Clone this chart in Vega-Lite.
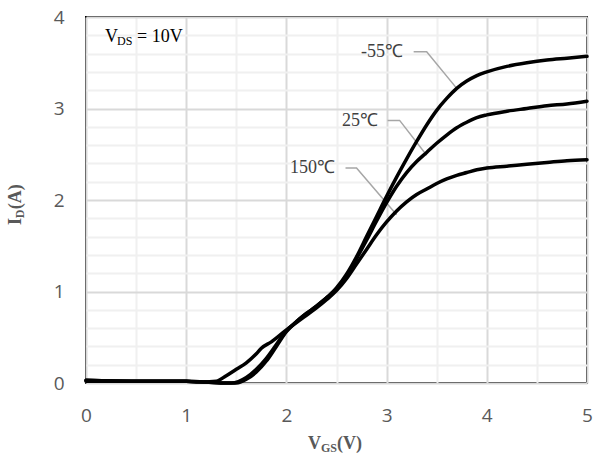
{
  "$schema": "https://vega.github.io/schema/vega-lite/v6.json",
  "width": 501,
  "height": 366,
  "autosize": {"type": "none"},
  "padding": {"left": 86, "top": 17, "right": 9, "bottom": 71},
  "background": "#ffffff",
  "config": {
    "view": {"stroke": "#000000", "strokeWidth": 2},
    "axis": {"title": null, "labelOverlap": false}
  },
  "resolve": {"axis": {"x": "independent", "y": "independent"}},
  "datasets": {
    "curves": [
      {"t": "-55", "v": 0, "i": 0.02}, {"t": "-55", "v": 0.5, "i": 0.02}, {"t": "-55", "v": 1.0, "i": 0.02}, {"t": "-55", "v": 1.2, "i": 0.01}, {"t": "-55", "v": 1.4, "i": 0.0}, {"t": "-55", "v": 1.5, "i": 0.0},
      {"t": "-55", "v": 1.6, "i": 0.04}, {"t": "-55", "v": 1.7, "i": 0.12}, {"t": "-55", "v": 1.8, "i": 0.24}, {"t": "-55", "v": 1.9, "i": 0.4}, {"t": "-55", "v": 2.0, "i": 0.56},
      {"t": "-55", "v": 2.1, "i": 0.67}, {"t": "-55", "v": 2.2, "i": 0.76}, {"t": "-55", "v": 2.3, "i": 0.84}, {"t": "-55", "v": 2.4, "i": 0.93}, {"t": "-55", "v": 2.5, "i": 1.04},
      {"t": "-55", "v": 2.6, "i": 1.19}, {"t": "-55", "v": 2.7, "i": 1.38}, {"t": "-55", "v": 2.8, "i": 1.6}, {"t": "-55", "v": 2.9, "i": 1.82}, {"t": "-55", "v": 3.0, "i": 2.04},
      {"t": "-55", "v": 3.1, "i": 2.25}, {"t": "-55", "v": 3.2, "i": 2.45}, {"t": "-55", "v": 3.3, "i": 2.64}, {"t": "-55", "v": 3.4, "i": 2.82}, {"t": "-55", "v": 3.5, "i": 2.98},
      {"t": "-55", "v": 3.6, "i": 3.11}, {"t": "-55", "v": 3.7, "i": 3.22}, {"t": "-55", "v": 3.8, "i": 3.3}, {"t": "-55", "v": 3.9, "i": 3.36}, {"t": "-55", "v": 4.0, "i": 3.4},
      {"t": "-55", "v": 4.2, "i": 3.46}, {"t": "-55", "v": 4.4, "i": 3.5}, {"t": "-55", "v": 4.6, "i": 3.53}, {"t": "-55", "v": 4.8, "i": 3.55}, {"t": "-55", "v": 5.0, "i": 3.57},
      {"t": "25", "v": 0, "i": 0.03}, {"t": "25", "v": 0.5, "i": 0.02}, {"t": "25", "v": 1.0, "i": 0.02}, {"t": "25", "v": 1.2, "i": 0.01}, {"t": "25", "v": 1.4, "i": 0.0}, {"t": "25", "v": 1.45, "i": 0.0},
      {"t": "25", "v": 1.6, "i": 0.06}, {"t": "25", "v": 1.7, "i": 0.15}, {"t": "25", "v": 1.8, "i": 0.27}, {"t": "25", "v": 1.9, "i": 0.42}, {"t": "25", "v": 2.0, "i": 0.57},
      {"t": "25", "v": 2.1, "i": 0.67}, {"t": "25", "v": 2.2, "i": 0.76}, {"t": "25", "v": 2.3, "i": 0.84}, {"t": "25", "v": 2.4, "i": 0.93}, {"t": "25", "v": 2.5, "i": 1.03},
      {"t": "25", "v": 2.6, "i": 1.17}, {"t": "25", "v": 2.7, "i": 1.36}, {"t": "25", "v": 2.8, "i": 1.56}, {"t": "25", "v": 2.9, "i": 1.77}, {"t": "25", "v": 3.0, "i": 1.97},
      {"t": "25", "v": 3.1, "i": 2.15}, {"t": "25", "v": 3.2, "i": 2.3}, {"t": "25", "v": 3.3, "i": 2.42}, {"t": "25", "v": 3.4, "i": 2.52}, {"t": "25", "v": 3.5, "i": 2.62},
      {"t": "25", "v": 3.6, "i": 2.71}, {"t": "25", "v": 3.7, "i": 2.79}, {"t": "25", "v": 3.8, "i": 2.85}, {"t": "25", "v": 3.9, "i": 2.9}, {"t": "25", "v": 4.0, "i": 2.93},
      {"t": "25", "v": 4.2, "i": 2.97}, {"t": "25", "v": 4.4, "i": 3.0}, {"t": "25", "v": 4.6, "i": 3.03}, {"t": "25", "v": 4.8, "i": 3.05}, {"t": "25", "v": 5.0, "i": 3.08},
      {"t": "150", "v": 0, "i": 0.03}, {"t": "150", "v": 0.5, "i": 0.02}, {"t": "150", "v": 1.0, "i": 0.02}, {"t": "150", "v": 1.1, "i": 0.01}, {"t": "150", "v": 1.3, "i": 0.02}, {"t": "150", "v": 1.4, "i": 0.08},
      {"t": "150", "v": 1.5, "i": 0.15}, {"t": "150", "v": 1.6, "i": 0.22}, {"t": "150", "v": 1.7, "i": 0.32}, {"t": "150", "v": 1.75, "i": 0.38}, {"t": "150", "v": 1.85, "i": 0.45},
      {"t": "150", "v": 2.0, "i": 0.58}, {"t": "150", "v": 2.1, "i": 0.66}, {"t": "150", "v": 2.2, "i": 0.74}, {"t": "150", "v": 2.3, "i": 0.82}, {"t": "150", "v": 2.4, "i": 0.91},
      {"t": "150", "v": 2.5, "i": 1.01}, {"t": "150", "v": 2.6, "i": 1.14}, {"t": "150", "v": 2.7, "i": 1.3}, {"t": "150", "v": 2.8, "i": 1.46}, {"t": "150", "v": 2.9, "i": 1.62},
      {"t": "150", "v": 3.0, "i": 1.76}, {"t": "150", "v": 3.1, "i": 1.88}, {"t": "150", "v": 3.2, "i": 1.98}, {"t": "150", "v": 3.3, "i": 2.06}, {"t": "150", "v": 3.4, "i": 2.12},
      {"t": "150", "v": 3.5, "i": 2.18}, {"t": "150", "v": 3.6, "i": 2.23}, {"t": "150", "v": 3.7, "i": 2.27}, {"t": "150", "v": 3.8, "i": 2.3}, {"t": "150", "v": 3.9, "i": 2.33},
      {"t": "150", "v": 4.0, "i": 2.35}, {"t": "150", "v": 4.2, "i": 2.37}, {"t": "150", "v": 4.4, "i": 2.39}, {"t": "150", "v": 4.6, "i": 2.41}, {"t": "150", "v": 4.8, "i": 2.43}, {"t": "150", "v": 5.0, "i": 2.44}
    ],
    "leaders": [
      {"g": "-55", "o": 1, "v": 3.27, "i": 3.62}, {"g": "-55", "o": 2, "v": 3.40, "i": 3.62}, {"g": "-55", "o": 3, "v": 3.70, "i": 3.22},
      {"g": "25", "o": 1, "v": 3.01, "i": 2.87}, {"g": "25", "o": 2, "v": 3.13, "i": 2.87}, {"g": "25", "o": 3, "v": 3.40, "i": 2.49},
      {"g": "150", "o": 1, "v": 2.59, "i": 2.35}, {"g": "150", "o": 2, "v": 2.70, "i": 2.35}, {"g": "150", "o": 3, "v": 3.10, "i": 1.84}
    ],
    "labels": [
      {"txt": "-55℃", "v": 3.164, "i": 3.617},
      {"txt": "25℃", "v": 2.914, "i": 2.863},
      {"txt": "150℃", "v": 2.485, "i": 2.35}
    ]
  },
  "layer": [
    {
      "data": {"name": "leaders"},
      "mark": {"type": "line", "color": "#a6a6a6", "strokeWidth": 1.5},
      "encoding": {
        "x": {
          "field": "v", "type": "quantitative",
          "scale": {"domain": [0, 5], "nice": false, "zero": false},
          "axis": {
            "orient": "bottom",
            "values": [0.5, 1.5, 2.5, 3.5, 4.5],
            "grid": true, "gridColor": "#f0f0f0", "gridWidth": 2,
            "labels": false, "ticks": false, "domain": false
          }
        },
        "y": {
          "field": "i", "type": "quantitative",
          "scale": {"domain": [0, 4], "nice": false, "zero": false},
          "axis": {
            "orient": "left",
            "values": [0.2, 0.4, 0.6, 0.8, 1.2, 1.4, 1.6, 1.8, 2.2, 2.4, 2.6, 2.8, 3.2, 3.4, 3.6, 3.8],
            "grid": true, "gridColor": "#f0f0f0", "gridWidth": 2,
            "labels": false, "ticks": false, "domain": false
          }
        },
        "detail": {"field": "g"},
        "order": {"field": "o", "type": "quantitative"}
      }
    },
    {
      "data": {"name": "curves"},
      "mark": {"type": "line", "color": "#000000", "strokeWidth": 3.5, "interpolate": "monotone", "strokeCap": "round", "strokeJoin": "round"},
      "encoding": {
        "x": {
          "field": "v", "type": "quantitative",
          "axis": {
            "orient": "bottom",
            "values": [0, 1, 2, 3, 4, 5],
            "format": "d",
            "grid": true, "gridColor": "#d9d9d9", "gridWidth": 2,
            "ticks": false, "domain": false,
            "labelFont": "Open Sans", "labelFontSize": 19, "labelColor": "#595959",
            "labelPadding": 23, "labelFlush": false
          }
        },
        "y": {
          "field": "i", "type": "quantitative",
          "axis": {
            "orient": "left",
            "values": [0, 1, 2, 3, 4],
            "format": "d",
            "grid": true, "gridColor": "#d9d9d9", "gridWidth": 2,
            "ticks": false, "domain": false,
            "labelFont": "Open Sans", "labelFontSize": 19, "labelColor": "#595959",
            "labelPadding": 22, "labelFlush": false
          }
        },
        "detail": {"field": "t"},
        "order": {"field": "v", "type": "quantitative"}
      }
    },
    {
      "data": {"name": "labels"},
      "mark": {"type": "text", "font": "Liberation Serif", "fontSize": 18, "align": "right", "baseline": "middle", "color": "#404040"},
      "encoding": {
        "x": {"field": "v", "type": "quantitative", "axis": null},
        "y": {"field": "i", "type": "quantitative", "axis": null},
        "text": {"field": "txt"}
      }
    },
    {
      "data": {"values": [{"txt": "V", "v": 0.19, "i": 3.73}, {"txt": "= 10V", "v": 0.509, "i": 3.73}]},
      "mark": {"type": "text", "font": "Liberation Serif", "fontSize": 18, "align": "left", "baseline": "alphabetic", "color": "#000000"},
      "encoding": {
        "x": {"field": "v", "type": "quantitative", "axis": null},
        "y": {"field": "i", "type": "quantitative", "axis": null},
        "text": {"field": "txt"}
      }
    },
    {
      "data": {"values": [{"txt": "DS", "v": 0.31, "i": 3.694}]},
      "mark": {"type": "text", "font": "Liberation Serif", "fontSize": 12, "align": "left", "baseline": "alphabetic", "color": "#000000"},
      "encoding": {
        "x": {"field": "v", "type": "quantitative", "axis": null},
        "y": {"field": "i", "type": "quantitative", "axis": null},
        "text": {"field": "txt"}
      }
    },
    {
      "data": {"values": [{"txt": "V", "v": 2.216, "i": -0.721}, {"txt": "(V)", "v": 2.505, "i": -0.721}]},
      "mark": {"type": "text", "font": "Liberation Serif", "fontSize": 18, "fontWeight": "bold", "align": "left", "baseline": "alphabetic", "color": "#595959"},
      "encoding": {
        "x": {"field": "v", "type": "quantitative", "axis": null},
        "y": {"field": "i", "type": "quantitative", "axis": null},
        "text": {"field": "txt"}
      }
    },
    {
      "data": {"values": [{"txt": "GS", "v": 2.345, "i": -0.754}]},
      "mark": {"type": "text", "font": "Liberation Serif", "fontSize": 12, "fontWeight": "bold", "align": "left", "baseline": "alphabetic", "color": "#595959"},
      "encoding": {
        "x": {"field": "v", "type": "quantitative", "axis": null},
        "y": {"field": "i", "type": "quantitative", "axis": null},
        "text": {"field": "txt"}
      }
    },
    {
      "data": {"values": [{"txt": "I", "v": -0.649, "i": 1.727}, {"txt": "(A)", "v": -0.649, "i": 1.90}]},
      "mark": {"type": "text", "font": "Liberation Serif", "fontSize": 18, "fontWeight": "bold", "align": "left", "baseline": "alphabetic", "angle": 270, "color": "#595959"},
      "encoding": {
        "x": {"field": "v", "type": "quantitative", "axis": null},
        "y": {"field": "i", "type": "quantitative", "axis": null},
        "text": {"field": "txt"}
      }
    },
    {
      "data": {"values": [{"txt": "D", "v": -0.619, "i": 1.80}]},
      "mark": {"type": "text", "font": "Liberation Serif", "fontSize": 12, "fontWeight": "bold", "align": "left", "baseline": "alphabetic", "angle": 270, "color": "#595959"},
      "encoding": {
        "x": {"field": "v", "type": "quantitative", "axis": null},
        "y": {"field": "i", "type": "quantitative", "axis": null},
        "text": {"field": "txt"}
      }
    }
  ]
}
